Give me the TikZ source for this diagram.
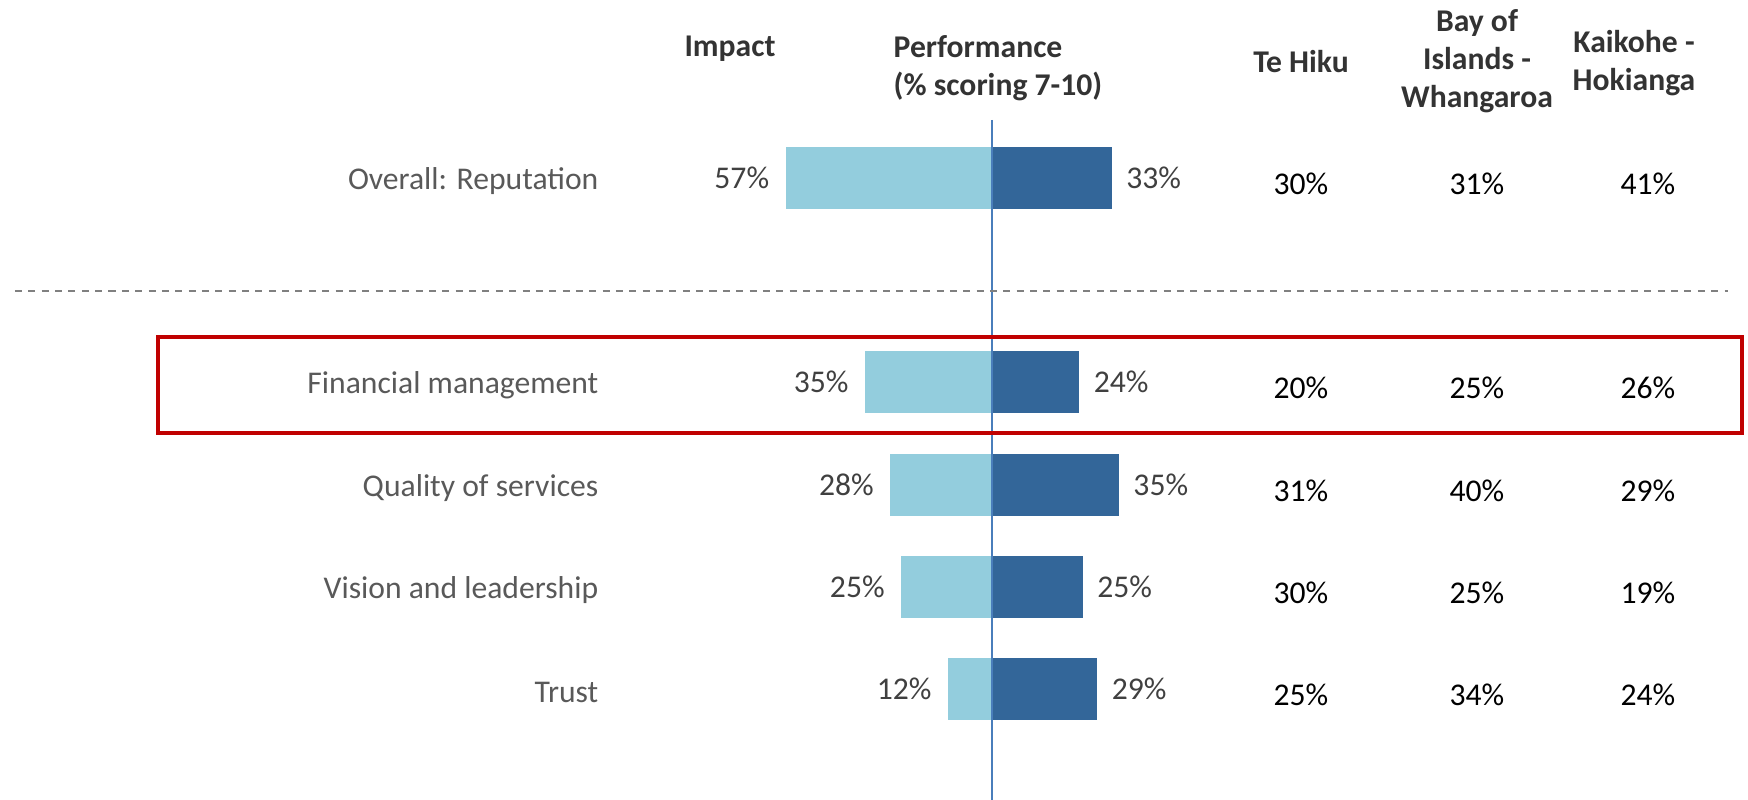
\documentclass[tikz,border=0pt]{standalone}
\usepackage{fontspec}
\setmainfont{Carlito}
\usetikzlibrary{positioning,calc}
\definecolor{impactblue}{HTML}{93CDDD}
\definecolor{perfblue}{HTML}{336699}
\definecolor{axisblue}{HTML}{4A7EBB}
\definecolor{labelgrey}{HTML}{595959}
\definecolor{valgrey}{HTML}{404040}
\definecolor{headgrey}{HTML}{333333}
\definecolor{boxred}{HTML}{C00000}
\def\pct{0.0361}
\def\barh{0.62}
\def\midx{9.92}
\tikzset{
  head/.style={
    font=\bfseries\fontsize{9}{10.8}\selectfont,
    text=headgrey,align=center,inner sep=0pt
},
  cat/.style={font=\fontsize{9}{11}\selectfont,text=labelgrey,anchor=east,inner sep=0pt},
  val/.style={font=\fontsize{9}{11}\selectfont,text=valgrey,inner sep=0pt},
  area/.style={font=\fontsize{9}{11}\selectfont,text=black,inner sep=0pt},
  impbar/.style={fill=impactblue,draw=none,inner sep=0pt,minimum height=\barh cm,anchor=east},
  perfbar/.style={fill=perfblue,draw=none,inner sep=0pt,minimum height=\barh cm,anchor=west}
}

\begin{document}
\begin{tikzpicture}[line cap=butt]
\useasboundingbox (0,0) rectangle (17.48,-8);
% column heads
\node[head] (h-imp) at (7.30,-0.49) {Impact};
\node[head,align=left,anchor=west] (h-perf) at (8.93,-0.68) {Performance\\(\% scoring 7-10)};
\node[head] (h-tehiku) at (13.01,-0.62) {Te Hiku};
\node[head] (h-bay) at (14.77,-0.61) {Bay of\\Islands -\\Whangaroa};
\node[head] (h-kai) at (16.34,-0.635) {Kaikohe -\\Hokianga};
% rows
\foreach \lab/\y/\imp/\perf/\ta/\tb/\tc[count=\i] in {%
    Overall: Reputation/1.78/57/33/30/31/41,
    Financial management/3.82/35/24/20/25/26,
    Quality of services/4.85/28/35/31/40/29,
    Vision and leadership/5.87/25/25/30/25/19,
    Trust/6.89/12/29/25/34/24}{
    \node[cat] (c-\i) at (5.99,-\y-0.03) {\lab};
    \node[impbar,minimum width=\imp*\pct cm] (imp-\i) at (\midx,-\y) {};
    \node[perfbar,minimum width=\perf*\pct cm] (perf-\i) at (\midx,-\y) {};
    \node[val,left=0.15 of imp-\i] (vi-\i) {\imp\%};
    \node[val,right=0.13 of perf-\i] (vp-\i) {\perf\%};
    \node[area] (a-\i) at (13.01,-\y-0.06) {\ta\%};
    \node[area] (b-\i) at (14.77,-\y-0.06) {\tb\%};
    \node[area] (k-\i) at (16.48,-\y-0.06) {\tc\%};
}
% axis
\coordinate (axtop) at (\midx,-1.20);
\coordinate (axbot) at (\midx,-8);
\draw[axisblue,line width=0.6pt] (axtop) -- (axbot);
% divider
\coordinate (dl) at (0.15,-2.91);
\coordinate (dr) at (17.28,-2.91);
\draw[gray,line width=0.45pt,dash pattern=on 2pt off 1.8pt] (dl) -- (dr);
% highlight
\draw[boxred,line width=1pt] (1.58,-3.37) rectangle (17.42,-4.33);
\end{tikzpicture}
\end{document}
